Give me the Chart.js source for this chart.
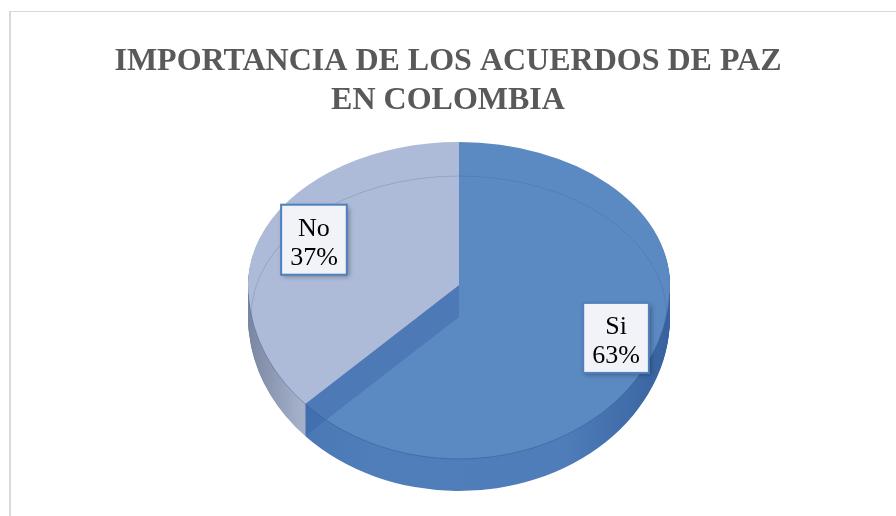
<!DOCTYPE html>
<html>
<head>
<meta charset="utf-8">
<script src="https://cdn.jsdelivr.net/npm/chart.js@4.4.1/dist/chart.umd.min.js"></script>
<style>
  html, body { margin: 0; padding: 0; background: #fff; }
  #wrap { position: relative; width: 896px; height: 516px; overflow: hidden; }
  #frame { position: absolute; left: 9px; top: 11px; width: 900px; height: 520px;
           border-left: 2px solid #d9d9d9; border-top: 1px solid #d9d9d9; }
  canvas { position: absolute; left: 0; top: 0; }
</style>
</head>
<body>
<div id="wrap">
  <div id="frame"></div>
  <canvas id="chart" width="896" height="516"></canvas>
</div>
<script>
// data
const categories = ['Si', 'No'];
const percentages = [63, 37];
const titleLines = ['IMPORTANCIA DE LOS ACUERDOS DE PAZ', 'EN COLOMBIA'];

// look
const topColors = ['#5b89c2', '#adbbd9'];
const CX = 459, CY = 285;          // pie centre on the top face
const RX = 211;                    // horizontal radius
const RY_BACK = 143, RY_FRONT = 174; // vertical radii (far half / near half)
const DEPTH = 32;                  // thickness of the disc
const LABEL_K = 0.78, LABEL_DX = 6, LABEL_DY = -1;

function sideFill(ctx, arc, i) {
    const g = ctx.createLinearGradient(arc.x - arc.outerRadius, 0, arc.x + arc.outerRadius, 0);
    if (i === 0) {
        g.addColorStop(0, '#4673b0');
        g.addColorStop(0.3, '#4f7ebb');
        g.addColorStop(0.75, '#4e7dba');
        g.addColorStop(1, '#38629f');
    } else {
        g.addColorStop(0, '#7a86a1');
        g.addColorStop(0.12, '#a3aec7');
        g.addColorStop(0.3, '#b8c2d8');
        g.addColorStop(1, '#b8c2d8');
    }
    return g;
}

// draw a copy of an arc element with another fill
function drawArcCopy(ctx, arc, fill) {
    const copy = Object.assign(Object.create(Chart.ArcElement.prototype), arc);
    copy.options = Object.assign({}, arc.options, { backgroundColor: fill, borderWidth: 0 });
    copy.draw(ctx);
}

// run fn in a space where the library's circle becomes the tilted disc face
function inDisc(chart, dy, fn) {
    const ctx = chart.ctx;
    const a0 = chart.getDatasetMeta(0).data[0];
    [RY_BACK, RY_FRONT].forEach((ry, half) => {
        ctx.save();
        ctx.beginPath();
        if (half === 0) ctx.rect(0, 0, chart.width, CY + dy);
        else ctx.rect(0, CY + dy, chart.width, chart.height);
        ctx.clip();
        ctx.translate(CX, CY + dy);
        ctx.scale(RX / a0.outerRadius, ry / a0.outerRadius);
        ctx.translate(-a0.x, -a0.y);
        fn();
        ctx.restore();
    });
}

function discPoint(angle, k, dy) {
    const s = Math.sin(angle);
    const ry = s < 0 ? RY_BACK : RY_FRONT;
    return [CX + k * RX * Math.cos(angle), CY + dy + k * ry * s];
}

const pie3d = {
    id: 'pie3d',
    beforeDatasetsDraw(chart) {
        const ctx = chart.ctx;
        const arcs = chart.getDatasetMeta(0).data;
        const fills = arcs.map((arc, i) => sideFill(ctx, arc, i));
        for (let d = DEPTH; d >= 1; d--) {
            inDisc(chart, d, () => arcs.forEach((arc, i) => drawArcCopy(ctx, arc, fills[i])));
        }
        inDisc(chart, 0, () => arcs.forEach(arc => arc.draw(ctx)));
        return false;
    },
    afterDraw(chart) {
        const ctx = chart.ctx;
        const arcs = chart.getDatasetMeta(0).data;
        const total = percentages.reduce((a, b) => a + b, 0);

        // radial wall seen through the top
        const [ex, ey] = discPoint(arcs[0].endAngle, 1, 0);
        ctx.save();
        ctx.fillStyle = 'rgba(45, 90, 160, 0.3)';
        ctx.beginPath();
        ctx.moveTo(CX, CY);
        ctx.lineTo(ex, ey);
        ctx.lineTo(ex, ey + DEPTH);
        ctx.lineTo(CX, CY + DEPTH);
        ctx.closePath();
        ctx.fill();

        // back rim of the bottom face and front edge of the top face
        ctx.lineWidth = 1;
        ctx.strokeStyle = 'rgba(60, 85, 130, 0.22)';
        ctx.beginPath();
        ctx.ellipse(CX, CY + DEPTH, RX - 3, RY_BACK - 2, 0, Math.PI, 2 * Math.PI);
        ctx.stroke();
        ctx.strokeStyle = 'rgba(40, 70, 120, 0.35)';
        ctx.beginPath();
        ctx.ellipse(CX, CY, RX, RY_FRONT, 0, 0.05, Math.PI - 0.05);
        ctx.stroke();
        ctx.restore();

        // data labels
        ctx.save();
        ctx.font = '26px "Liberation Serif", "Times New Roman", serif';
        arcs.forEach((arc, i) => {
            const mid = (arc.startAngle + arc.endAngle) / 2;
            let [lx, ly] = discPoint(mid, LABEL_K, 0);
            lx += LABEL_DX; ly += LABEL_DY;
            const lines = [categories[i], Math.round(percentages[i] / total * 100) + '%'];
            const w = Math.max(...lines.map(t => ctx.measureText(t).width)) + 18;
            const h = 70;
            ctx.save();
            ctx.shadowColor = 'rgba(0, 0, 0, 0.35)';
            ctx.shadowBlur = 5;
            ctx.shadowOffsetX = 2;
            ctx.shadowOffsetY = 2;
            ctx.fillStyle = '#f1f3f8';
            ctx.fillRect(lx - w / 2, ly - h / 2, w, h);
            ctx.restore();
            ctx.lineWidth = 2;
            ctx.strokeStyle = '#4f81bd';
            ctx.strokeRect(lx - w / 2, ly - h / 2, w, h);
            ctx.fillStyle = '#000';
            ctx.textAlign = 'center';
            ctx.textBaseline = 'alphabetic';
            ctx.fillText(lines[0], lx, ly - 4);
            ctx.fillText(lines[1], lx, ly + 25);
        });
        ctx.restore();
    }
};

new Chart(document.getElementById('chart'), {
    type: 'pie',
    data: {
        labels: categories,
        datasets: [{
            data: percentages,
            backgroundColor: topColors,
            borderWidth: 0,
            hoverOffset: 0
        }]
    },
    options: {
        responsive: false,
        animation: false,
        layout: { padding: 0 },
        plugins: {
            legend: { display: false },
            tooltip: { enabled: false },
            title: {
                display: true,
                text: titleLines,
                color: '#595959',
                font: { family: '"Liberation Serif", "Times New Roman", serif', size: 32, weight: 'bold', lineHeight: 1.2 },
                padding: { top: 43, bottom: 10 }
            }
        }
    },
    plugins: [pie3d]
});
</script>
</body>
</html>
